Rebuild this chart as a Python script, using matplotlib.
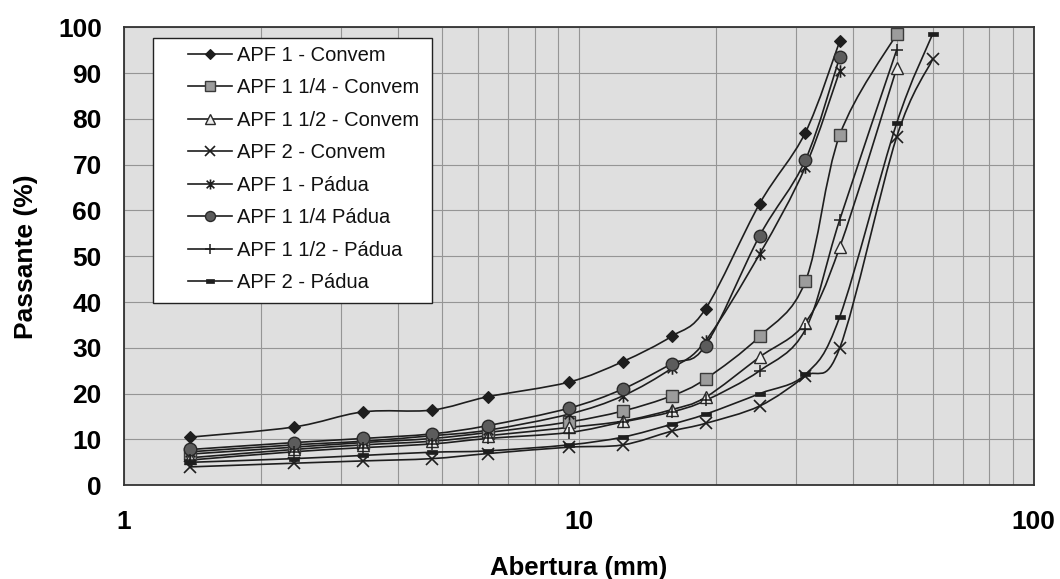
import matplotlib
matplotlib.use("Agg")
import matplotlib.pyplot as plt
from matplotlib.path import Path
from matplotlib.patches import PathPatch, Rectangle
from matplotlib.lines import Line2D
import numpy as np

plt.rcParams['font.family'] = ['Liberation Sans', 'DejaVu Sans']

# ---------------- data ----------------
sieves = [1.4, 2.36, 3.35, 4.75, 6.3, 9.5, 12.5, 16, 19, 25, 31.5, 37.5, 50, 60]

apf1_convem = [10.5, 12.7, 16.0, 16.4, 19.3, 22.5, 27.0, 32.5, 38.5, 61.5, 77.0, 97.0]
apf114_convem = [6.8, 8.3, 9.3, 10.2, 11.5, 13.8, 16.2, 19.5, 23.2, 32.5, 44.5, 76.5, 98.5]
apf112_convem = [6.0, 7.8, 8.8, 9.6, 10.8, 12.6, 14.0, 16.5, 19.2, 28.0, 35.5, 52.0, 91.0]
apf2_convem = [4.0, 4.8, 5.3, 5.8, 6.9, 8.3, 8.8, 11.8, 13.5, 17.3, 23.8, 30.0, 76.0, 93.0]
apf1_padua = [7.3, 8.8, 9.6, 10.8, 12.0, 15.5, 19.5, 25.5, 31.5, 50.5, 69.5, 90.5]
apf114_padua = [7.8, 9.3, 10.2, 11.2, 13.0, 16.8, 21.0, 26.5, 30.5, 54.5, 71.0, 93.5]
apf112_padua = [5.5, 7.3, 8.2, 9.0, 10.2, 11.5, 13.8, 16.0, 18.5, 25.0, 34.0, 58.0, 95.0]
apf2_padua = [5.0, 5.8, 6.5, 7.2, 7.5, 8.8, 10.5, 13.3, 15.5, 20.0, 24.2, 36.8, 79.0, 98.5]

labels = ["APF 1 - Convem", "APF 1 1/4 - Convem", "APF 1 1/2 - Convem", "APF 2 - Convem",
          "APF 1 - Pádua", "APF 1 1/4 Pádua", "APF 1 1/2 - Pádua", "APF 2 - Pádua"]
series = [apf1_convem, apf114_convem, apf112_convem, apf2_convem,
          apf1_padua, apf114_padua, apf112_padua, apf2_padua]

x_ticks = [1, 10, 100]
x_ticklabels = ["1", "10", "100"]
y_ticks = list(range(0, 101, 10))

# ---------------- styles ----------------
star = Path([(-1, -1), (1, 1), (-1, 1), (1, -1), (0, -1.3), (0, 1.3)],
            [Path.MOVETO, Path.LINETO, Path.MOVETO, Path.LINETO, Path.MOVETO, Path.LINETO])
dash = Path([(-1, -0.45), (1, -0.45), (1, 0.45), (-1, 0.45), (-1, -0.45)],
            [Path.MOVETO, Path.LINETO, Path.LINETO, Path.LINETO, Path.CLOSEPOLY])

LC = '#1e1e1e'
styles = [
    dict(marker='D', ms=6.5, mfc='#1e1e1e', mec='#1e1e1e', mew=0.8),
    dict(marker='s', ms=8.5, mfc='#9c9c9c', mec='#3a3a3a', mew=1.0),
    dict(marker='^', ms=8.5, mfc='#ececec', mec='#2a2a2a', mew=1.0),
    dict(marker='x', ms=8.5, mfc='none', mec='#1e1e1e', mew=1.2),
    dict(marker=star, ms=9, mfc='none', mec='#1e1e1e', mew=1.2),
    dict(marker='o', ms=9, mfc='#5c5c5c', mec='#2a2a2a', mew=1.0),
    dict(marker='+', ms=9, mfc='none', mec='#1e1e1e', mew=1.1),
    dict(marker=dash, ms=7, mfc='#1e1e1e', mec='#1e1e1e', mew=0.5),
]


def smooth_path(xs, ys):
    """Excel-like smoothed line as cubic Bezier segments (computed in log-x space)."""
    lx = np.log10(xs)
    ly = np.asarray(ys, float)
    n = len(lx)
    verts = [(xs[0], ys[0])]
    codes = [Path.MOVETO]
    for i in range(n - 1):
        p0 = (lx[i - 1], ly[i - 1]) if i > 0 else (lx[i], ly[i])
        p1 = (lx[i], ly[i])
        p2 = (lx[i + 1], ly[i + 1])
        p3 = (lx[i + 2], ly[i + 2]) if i + 2 < n else (lx[i + 1], ly[i + 1])
        c1 = (p1[0] + (p2[0] - p0[0]) / 6, p1[1] + (p2[1] - p0[1]) / 6)
        c2 = (p2[0] - (p3[0] - p1[0]) / 6, p2[1] - (p3[1] - p1[1]) / 6)
        for c in (c1, c2, p2):
            verts.append((10 ** c[0], c[1]))
        codes += [Path.CURVE4] * 3
    return Path(verts, codes)


fig = plt.figure(figsize=(10.6, 5.79), dpi=100)
ax = fig.add_axes([0.117, 0.162, 0.858, 0.791])
ax.set_facecolor('#dfdfdf')
ax.set_xscale('log')
ax.set_xlim(1, 100)
ax.set_ylim(0, 100)

handles = []
for lab, vals, st in zip(labels, series, styles):
    xs = sieves[:len(vals)]
    ax.add_patch(PathPatch(smooth_path(xs, vals), facecolor='none', edgecolor=LC, lw=1.2, zorder=3))
    ax.plot(xs, vals, linestyle='none', zorder=4, **st)
    handles.append(Line2D([], [], color=LC, lw=1.2, **{k: v for k, v in st.items() if k != 'ms'},
                          ms=st['ms'] * 0.8))

ax.set_xticks(x_ticks)
ax.set_xticklabels(x_ticklabels)
ax.set_yticks(y_ticks)
ax.xaxis.set_minor_formatter(matplotlib.ticker.NullFormatter())
ax.set_axisbelow(True)
ax.grid(True, which='both', axis='x', color='#959595', lw=0.8)
ax.grid(True, which='major', axis='y', color='#959595', lw=0.8)
ax.tick_params(which='both', length=0)
ax.tick_params(axis='x', pad=17.5)
ax.tick_params(axis='y', pad=16)
for t in ax.get_xticklabels() + ax.get_yticklabels():
    t.set_fontsize(19)
    t.set_fontweight('bold')
for s in ax.spines.values():
    s.set_color('#333333')
    s.set_linewidth(1.3)

ax.set_xlabel('Abertura (mm)', fontsize=18.5, fontweight='bold', labelpad=16)
ax.set_ylabel('Passante (%)', fontsize=19, fontweight='bold', labelpad=14)

ax.add_patch(Rectangle((0.032, 0.397), 0.307, 0.579, transform=ax.transAxes,
                       facecolor='white', edgecolor='#222222', lw=1.0, zorder=5))
leg = ax.legend(handles, labels, loc='upper left', bbox_to_anchor=(0.0705, 0.959),
                frameon=False, fontsize=14.5, borderpad=0, borderaxespad=0,
                handlelength=2.2, handletextpad=0.25, labelspacing=0.67)
leg.set_zorder(6)
for t in leg.get_texts():
    t.set_color('#111111')

fig.savefig('out.png', dpi=100, facecolor='white')
